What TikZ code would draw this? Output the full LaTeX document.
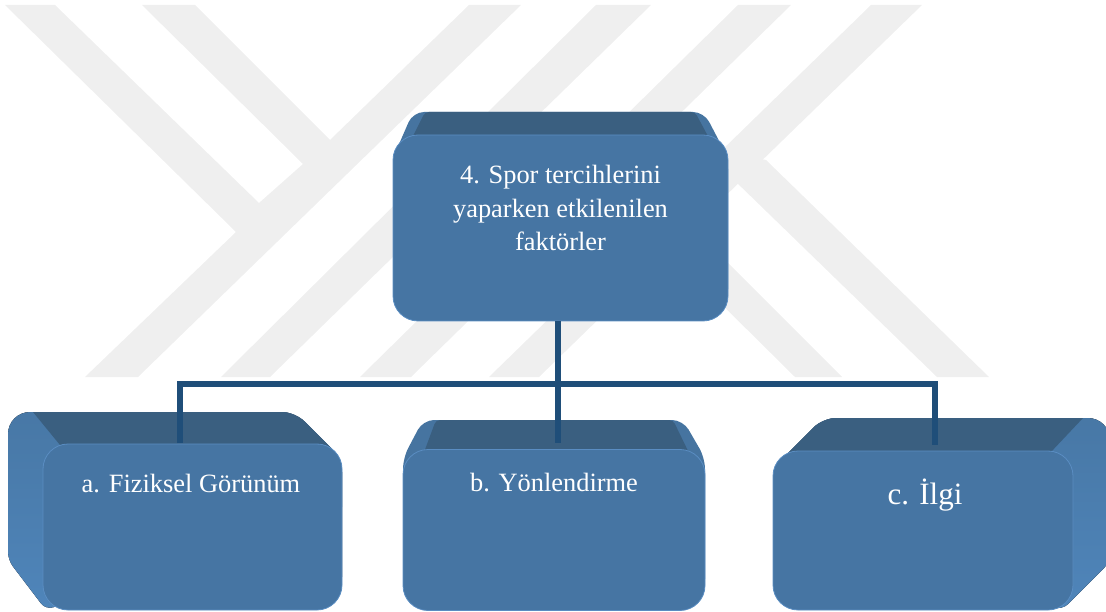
\documentclass[tikz,border=0pt]{standalone}
\usepackage{fontspec}
\setmainfont{Liberation Serif}
\definecolor{yuz}{HTML}{4675A3}
\definecolor{ust}{HTML}{3A5F80}
\definecolor{yan}{HTML}{4F85BA}
\definecolor{kenar}{HTML}{5A8DC2}
\definecolor{hat}{HTML}{1F4E79}
\definecolor{filigran}{HTML}{EFEFEF}
\tikzset{
	yuzey/.style={draw=kenar,line width=0.8pt,fill=yuz,rounded corners=25pt,minimum width=#1,inner sep=0pt},
	yanyuz/.style={top color=ust!35!yan,middle color=yan,bottom color=yan},
	yazi/.style={text=white,align=center,font=\fontsize{26.4}{33.5}\selectfont},
	baglanti/.style={draw=hat,line width=5.5pt}
}
\begin{document}
\begin{tikzpicture}[x=1pt,y=-1pt]
	\useasboundingbox (0,0) rectangle (1106,612);
	% filigran
	\fill[filigran] (5,5)--(55,5)--(259,203)--(303,164)--(142,5)--(195,5)--(330,140)--(469,5)--(521,5)--(138,377)--(85,377)--(236,232)--cycle;
	\fill[filigran] (596,5)--(651,5)--(270,377)--(221,377)--cycle;
	\fill[filigran] (738,5)--(791,5)--(411,377)--(360,377)--cycle;
	\fill[filigran] (871,5)--(922,5)--(539,377)--(489,377)--cycle;
	\fill[filigran] (766,160)--(989,377)--(937,377)--(700,147)--cycle;
	\fill[filigran] (842,377)--(795,377)--(700,283)--(700,235)--cycle;
	% ust kutu
	\fill[ust!45!yan,rounded corners=11pt] (393,158)--(413,112)--(704,112)--(728,158)--(728,300)--(393,300)--cycle;
	\fill[ust,rounded corners=4pt] (411,140)--(425,112)--(695,112)--(710,140)--cycle;
	\node[yuzey=335pt,minimum height=186pt] (ana) at (560.5,228) {};
	\node[yazi] (anayazi) at (560.5,208) {4. Spor tercihlerini\\yaparken etkilenilen\\faktörler};
	% sol kutu
	\fill[yanyuz] (100,412) [rounded corners=13pt] --(295,412)--(342,459)--(342,590)--(100,590) [rounded corners=8pt] --(46,610)--(8,560) [rounded corners=22pt] --(8,412)--cycle;
	\fill[ust] (33,412) [rounded corners=13pt] --(295,412)--(342,459)--(342,520) [sharp corners] --(60,520)--(60,445)--cycle;
	\node[yuzey=299pt,minimum height=166pt] (fizik) at (192.5,527) {};
	\node[yazi] (fizikyazi) at (191,484) {a. Fiziksel Görünüm};
	% orta kutu
	\fill[ust!45!yan,rounded corners=11pt] (403,458)--(423,420)--(683,420)--(705,458)--(705,590)--(403,590)--cycle;
	\fill[ust,rounded corners=4pt] (423,455)--(436,420)--(673,420)--(690,455)--cycle;
	\node[yuzey=302pt,minimum height=161pt] (yon) at (554,530) {};
	\node[yazi] (yonyazi) at (554,483) {b. Yönlendirme};
	% sag kutu
	\fill[yanyuz] (1000,418) [rounded corners=13pt] --(823,418)--(773,468)--(773,590)--(1000,590) [rounded corners=8pt] --(1062,610)--(1110,562) [rounded corners=22pt] --(1110,418)--cycle;
	\fill[ust] (1083,418) [rounded corners=13pt] --(823,418)--(773,468)--(773,520) [sharp corners] --(1050,520)--(1050,453)--cycle;
	\node[yuzey=300pt,minimum height=159pt] (ilgi) at (923,530.5) {};
	\node[yazi,font=\fontsize{31}{36}\selectfont] (ilgiyazi) at (925,495) {c. İlgi};
	% baglantilar
	\coordinate (dugum) at (558,384);
	\coordinate (solk) at (180,384);
	\coordinate (sagk) at (935,384);
	\coordinate (solu) at (180,443);
	\coordinate (ortau) at (558,443);
	\coordinate (sagu) at (935,445);
	\draw[baglanti] (ana.south-|dugum)--(dugum);
	\draw[baglanti] (solu)--(solk)--(sagk)--(sagu);
	\draw[baglanti] (dugum)--(ortau);
\end{tikzpicture}
\end{document}
